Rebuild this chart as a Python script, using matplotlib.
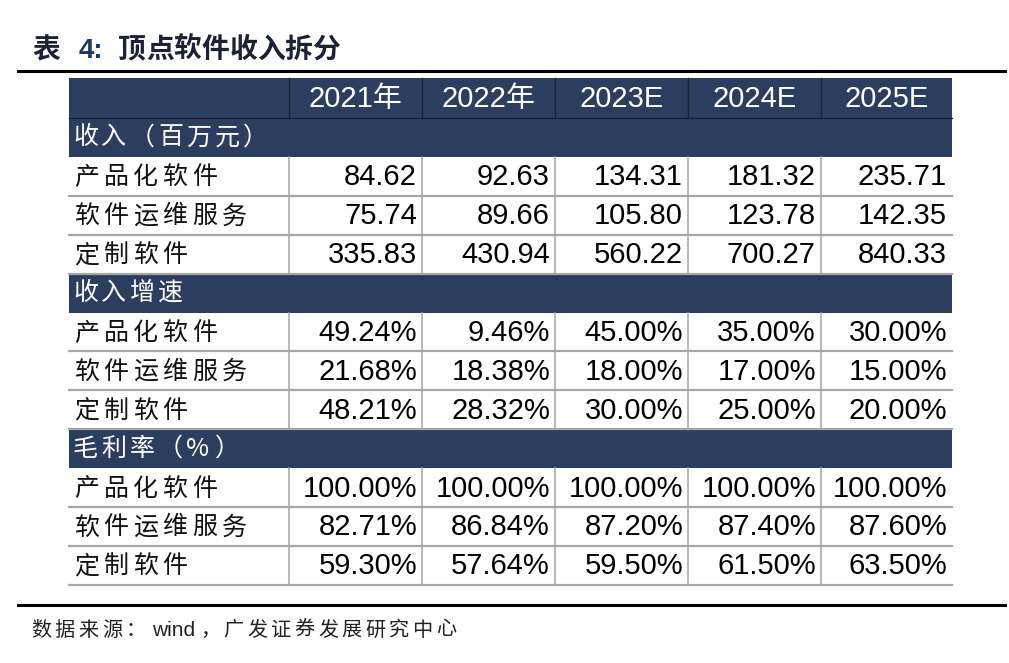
import matplotlib
matplotlib.use("Agg")
import matplotlib.pyplot as plt
from matplotlib.patches import Rectangle

title_prefix = "表"
title_num = "4:"
title_body = "顶点软件收入拆分"
source_a = "数据来源："
source_b = "wind"
source_c = "，广发证券发展研究中心"
columns = ["2021年", "2022年", "2023E", "2024E", "2025E"]
items = ["产品化软件", "软件运维服务", "定制软件"]
sections = ["收入（百万元）", "收入增速", "毛利率（%）"]
revenue = [
    ["84.62", "92.63", "134.31", "181.32", "235.71"],
    ["75.74", "89.66", "105.80", "123.78", "142.35"],
    ["335.83", "430.94", "560.22", "700.27", "840.33"],
]
growth = [
    ["49.24%", "9.46%", "45.00%", "35.00%", "30.00%"],
    ["21.68%", "18.38%", "18.00%", "17.00%", "15.00%"],
    ["48.21%", "28.32%", "30.00%", "25.00%", "20.00%"],
]
margin = [
    ["100.00%", "100.00%", "100.00%", "100.00%", "100.00%"],
    ["82.71%", "86.84%", "87.20%", "87.40%", "87.60%"],
    ["59.30%", "57.64%", "59.50%", "61.50%", "63.50%"],
]
blocks = [revenue, growth, margin]

W, H = 1009, 663
fig = plt.figure(figsize=(W / 100, H / 100), dpi=100)
ax = fig.add_axes([0, 0, 1, 1])
ax.set_xlim(0, W)
ax.set_ylim(H, 0)
ax.axis("off")

navy = "#2c3e5f"
grid = "#a6a6a6"
cjk = ["Noto Sans CJK SC", "DejaVu Sans"]
num = ["Liberation Sans", "DejaVu Sans"]


def spaced(x, y, s, step, **kw):
    for i, ch in enumerate(s):
        ax.text(x + i * step, y, ch, ha="left", va="center", **kw)


# title and rules
tcol = "#1c2235"
spaced(32, 50, title_prefix, 27.5, fontsize=20, fontweight="bold", family=cjk, color=tcol)
ax.text(79, 51, title_num, fontsize=20, fontweight="bold", family=num,
        color="#1f3864", ha="left", va="center")
spaced(118, 50, title_body, 27.8, fontsize=20, fontweight="bold", family=cjk, color=tcol)
ax.plot([18, 1005], [71, 71], color="black", lw=2.2)
ax.plot([18, 1005], [605, 605], color="black", lw=2.2)
spaced(31, 630, source_a, 23.6, fontsize=14.5, family=cjk, color="#222222")
ax.text(152, 630, source_b, fontsize=15, family=num, color="#222222", ha="left", va="center")
spaced(200, 630, source_c, 23.6, fontsize=14.5, family=cjk, color="#222222")

x0, x1 = 69, 952
col_edges = [69, 289, 422, 555, 688, 821, 952]
header_top, header_bot = 78, 118
rh = 38.9
step = 29.5

# header
ax.add_patch(Rectangle((x0, header_top), x1 - x0, header_bot - header_top, color=navy, lw=0))
for xe in col_edges[1:-1]:
    ax.plot([xe, xe], [header_top, header_bot], color="#1a2233", lw=1)
ax.plot([x0, x1], [header_bot, header_bot], color="#1a2233", lw=1)
for i, c in enumerate(columns):
    ax.text((col_edges[i + 1] + col_edges[i + 2]) / 2, (header_top + header_bot) / 2 + 1, c,
            fontsize=21, family=["Liberation Sans", "Noto Sans CJK SC"], color="white", ha="center", va="center")

y = header_bot
for s, block in zip(sections, blocks):
    ax.add_patch(Rectangle((x0, y), x1 - x0, rh, color=navy, lw=0))
    spaced(73, y + rh / 2, s, 28.3, fontsize=18, family=cjk, color="white")
    y += rh
    top = y
    for item, row in zip(items, block):
        spaced(74, y + rh / 2 + 1, item, step, fontsize=18, family=cjk, color="#111111")
        for j, v in enumerate(row):
            ax.text(col_edges[j + 2] - 5, y + rh / 2 + 1, v, fontsize=21, family=num, color="black",
                    ha="right", va="center")
        y += rh
        ax.plot([x0, x1], [y, y], color=grid, lw=1.6)
    for xe in col_edges[1:-1]:
        ax.plot([xe, xe], [top, y], color=grid, lw=1.1)

fig.savefig("out.png", dpi=100)
